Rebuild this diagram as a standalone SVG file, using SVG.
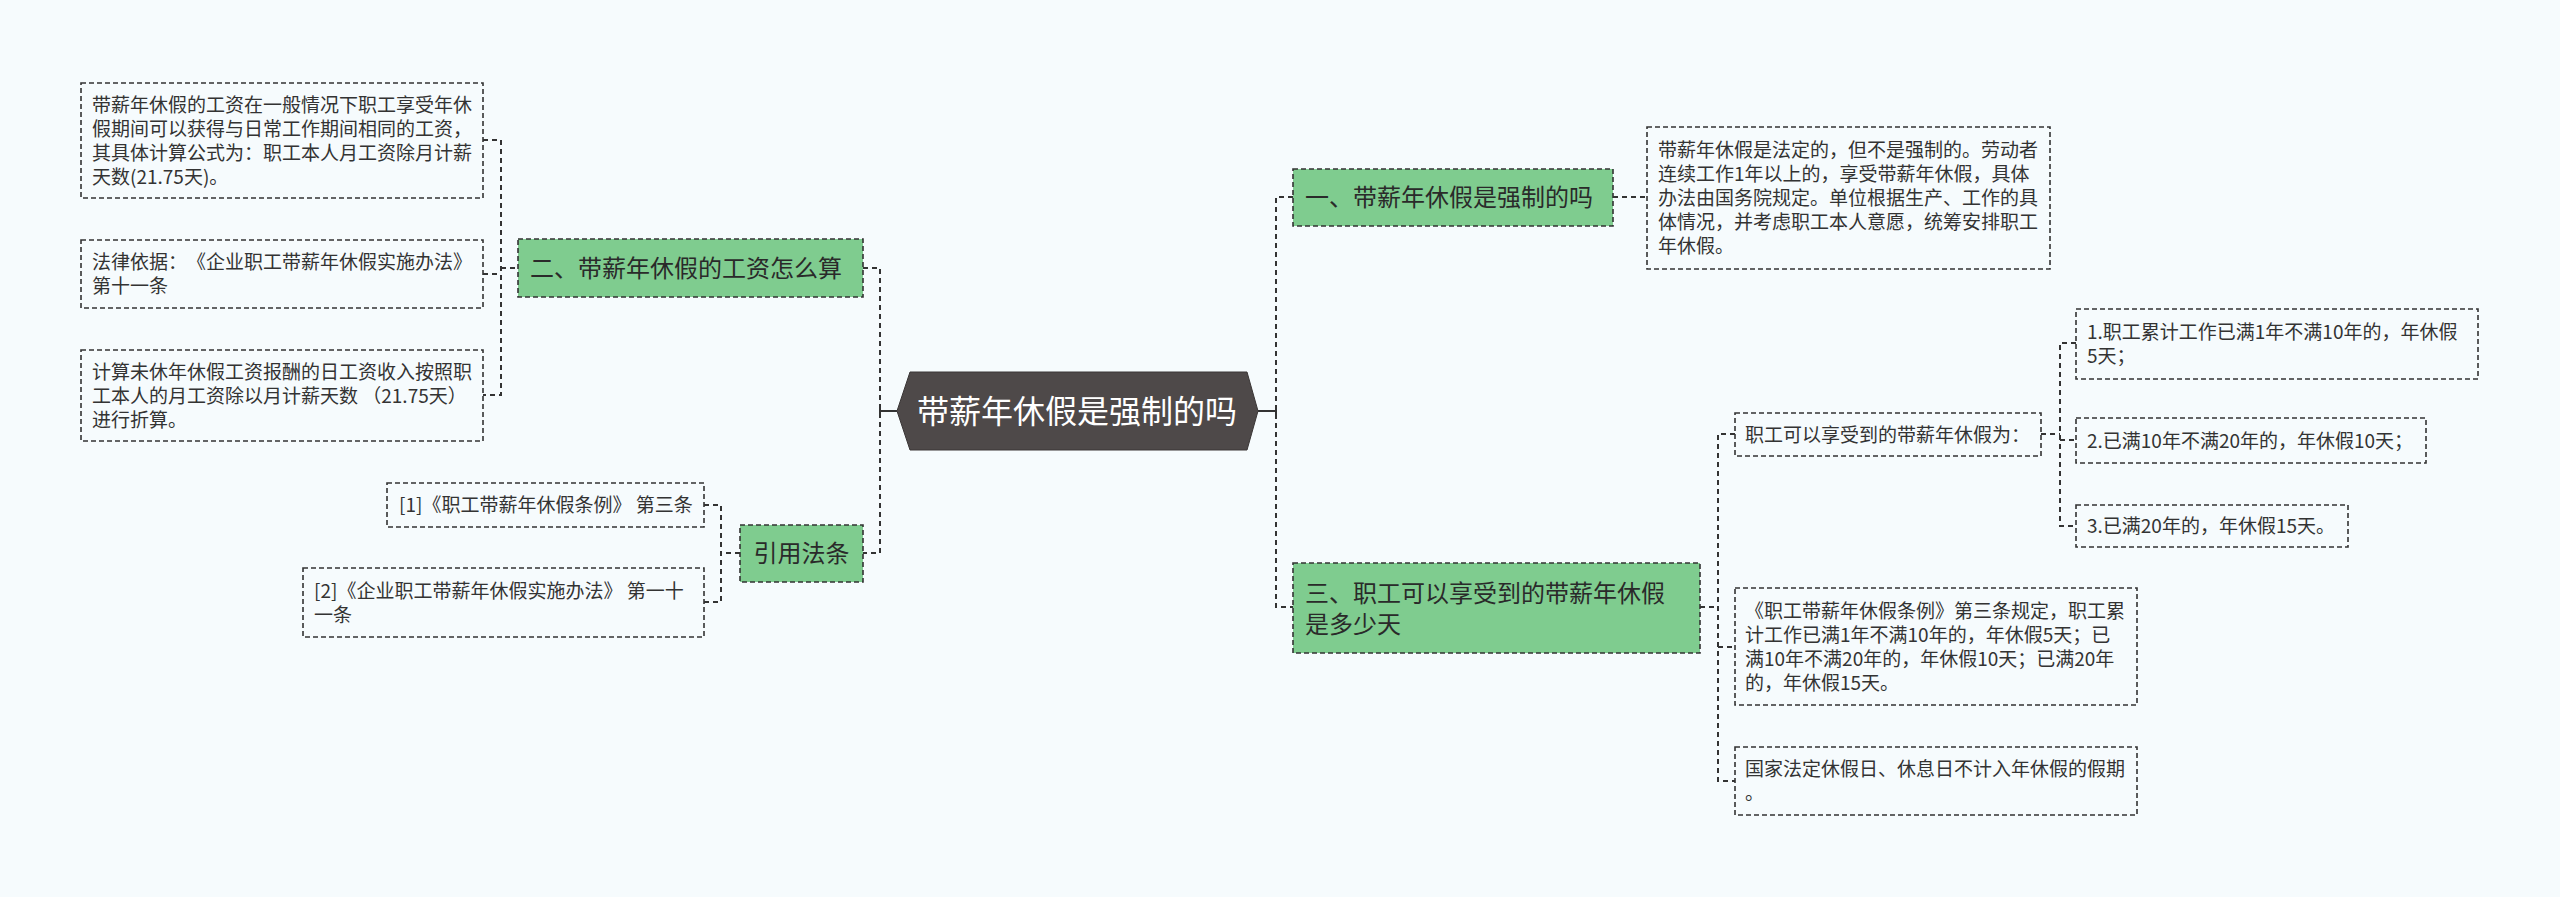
<svg xmlns="http://www.w3.org/2000/svg" width="2560" height="897" viewBox="0 0 2560 897">
<style>
.bg{fill:#f6fbfd}
.box{fill:none;stroke:#333;stroke-width:1.6;stroke-dasharray:5 3}
.gbox{fill:#7fcc8f;stroke:#333;stroke-width:1.6;stroke-dasharray:5 3}
.c{fill:none;stroke:#333;stroke-width:2;stroke-dasharray:5 4}
.cs{fill:none;stroke:#333;stroke-width:2}
text{text-spacing-trim:space-all}
.t{font-family:"Noto Sans CJK SC","Noto Sans",sans-serif;font-size:19px;fill:#333}
.tg{font-family:"Noto Sans CJK SC","Noto Sans",sans-serif;font-size:24px;fill:#2a2a2a}
.tc{font-family:"Noto Sans CJK SC","Noto Sans",sans-serif;font-size:32px;fill:#ffffff}
</style>
<rect class="bg" x="0" y="0" width="2560" height="897"/>
<g id="connectors">
<path class="c" d="M483,140 H501 V395 H483 M483,274 H501 M501,268 H518"/>
<path class="c" d="M863,268 H880 V553 H863"/>
<path class="cs" d="M880,411 H897 M880,405 V417"/>
<path class="c" d="M740,553 H722 M704,505 H721 V602 H704"/>
<path class="cs" d="M1258,411 H1276 M1276,405 V417"/>
<path class="c" d="M1293,197 H1276 V607 H1293"/>
<path class="c" d="M1613,197 H1647"/>
<path class="c" d="M1700,607 H1718 M1735,434 H1718 V781 H1735 M1718,647 H1735"/>
<path class="c" d="M2041,434 H2060 M2076,343 H2060 V526 H2076 M2060,440 H2076"/>
</g>
<g id="center">
<polygon points="897,411 910,372 1247,372 1258,411 1247,450 910,450" fill="#4e4949" stroke="#3a3636" stroke-width="1"/>
<text class="tc" x="1077" y="423" text-anchor="middle">带薪年休假是强制的吗</text>
</g>
<g id="n2">
<rect class="gbox" x="518" y="239" width="345" height="58"/>
<text class="tg" x="530" y="277">二、带薪年休假的工资怎么算</text>
</g>
<g id="n2a">
<rect class="box" x="81" y="83" width="402" height="115"/>
<text class="t"><tspan x="92" y="111.5">带薪年休假的工资在一般情况下职工享受年休</tspan><tspan x="92" y="135.5">假期间可以获得与日常工作期间相同的工资，</tspan><tspan x="92" y="159.5">其具体计算公式为：职工本人月工资除月计薪</tspan><tspan x="92" y="183.5">天数(21.75天)。</tspan></text>
</g>
<g id="n2b">
<rect class="box" x="81" y="240" width="402" height="68"/>
<text class="t"><tspan x="92" y="269">法律依据：《企业职工带薪年休假实施办法》</tspan><tspan x="92" y="293">第十一条</tspan></text>
</g>
<g id="n2c">
<rect class="box" x="81" y="350" width="402" height="91"/>
<text class="t"><tspan x="92" y="378.5">计算未休年休假工资报酬的日工资收入按照职</tspan><tspan x="92" y="402.5">工本人的月工资除以月计薪天数 （21.75天）</tspan><tspan x="92" y="426.5">进行折算。</tspan></text>
</g>
<g id="n4">
<rect class="gbox" x="740" y="525" width="123" height="57"/>
<text class="tg" x="801.5" y="562" text-anchor="middle">引用法条</text>
</g>
<g id="n4a">
<rect class="box" x="387" y="483" width="317" height="44"/>
<text class="t" x="399" y="512">[1]《职工带薪年休假条例》 第三条</text>
</g>
<g id="n4b">
<rect class="box" x="303" y="568" width="401" height="69"/>
<text class="t"><tspan x="314" y="597.5">[2]《企业职工带薪年休假实施办法》 第一十</tspan><tspan x="314" y="621.5">一条</tspan></text>
</g>
<g id="n1">
<rect class="gbox" x="1293" y="169" width="320" height="57"/>
<text class="tg" x="1305" y="206">一、带薪年休假是强制的吗</text>
</g>
<g id="n1a">
<rect class="box" x="1647" y="127" width="403" height="142"/>
<text class="t"><tspan x="1658" y="157">带薪年休假是法定的，但不是强制的。劳动者</tspan><tspan x="1658" y="181">连续工作1年以上的，享受带薪年休假，具体</tspan><tspan x="1658" y="205">办法由国务院规定。单位根据生产、工作的具</tspan><tspan x="1658" y="229">体情况，并考虑职工本人意愿，统筹安排职工</tspan><tspan x="1658" y="253">年休假。</tspan></text>
</g>
<g id="n3">
<rect class="gbox" x="1293" y="563" width="407" height="90"/>
<text class="tg"><tspan x="1305" y="601.5">三、职工可以享受到的带薪年休假</tspan><tspan x="1305" y="632.5">是多少天</tspan></text>
</g>
<g id="n3a">
<rect class="box" x="1735" y="413" width="306" height="43"/>
<text class="t" x="1745" y="441.5">职工可以享受到的带薪年休假为：</text>
</g>
<g id="n3a1">
<rect class="box" x="2076" y="309" width="402" height="70"/>
<text class="t"><tspan x="2087" y="339">1.职工累计工作已满1年不满10年的，年休假</tspan><tspan x="2087" y="363">5天；</tspan></text>
</g>
<g id="n3a2">
<rect class="box" x="2076" y="418" width="350" height="45"/>
<text class="t" x="2087" y="447.5">2.已满10年不满20年的，年休假10天；</text>
</g>
<g id="n3a3">
<rect class="box" x="2076" y="505" width="272" height="42"/>
<text class="t" x="2087" y="533">3.已满20年的，年休假15天。</text>
</g>
<g id="n3b">
<rect class="box" x="1735" y="588" width="402" height="117"/>
<text class="t"><tspan x="1745" y="617.5">《职工带薪年休假条例》第三条规定，职工累</tspan><tspan x="1745" y="641.5">计工作已满1年不满10年的，年休假5天；已</tspan><tspan x="1745" y="665.5">满10年不满20年的，年休假10天；已满20年</tspan><tspan x="1745" y="689.5">的，年休假15天。</tspan></text>
</g>
<g id="n3c">
<rect class="box" x="1735" y="747" width="402" height="68"/>
<text class="t"><tspan x="1745" y="776">国家法定休假日、休息日不计入年休假的假期</tspan><tspan x="1745" y="800">。</tspan></text>
</g>
</svg>
